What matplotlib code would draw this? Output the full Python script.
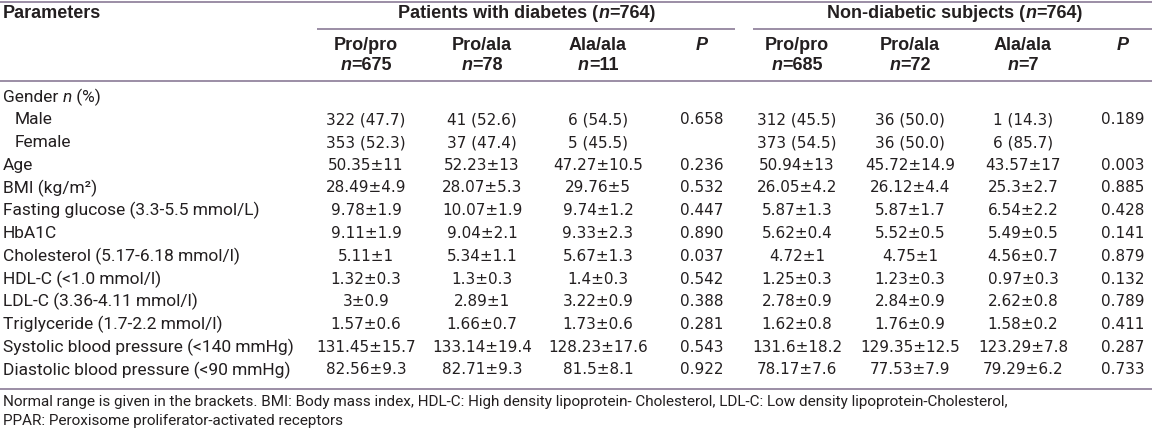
import matplotlib
matplotlib.use("Agg")
import matplotlib.pyplot as plt

# ---- table content ----
groups = ["Patients with diabetes", "Non-diabetic subjects"]
group_n = ["764", "764"]
genotypes = ["Pro/pro", "Pro/ala", "Ala/ala"]
diab_n = ["675", "78", "11"]
nondiab_n = ["685", "72", "7"]

params = ["Gender n (%)", "Male", "Female", "Age", "BMI (kg/m\u00b2)",
          "Fasting glucose (3.3-5.5 mmol/L)", "HbA1C",
          "Cholesterol (5.17-6.18 mmol/l)", "HDL-C (<1.0 mmol/l)",
          "LDL-C (3.36-4.11 mmol/l)", "Triglyceride (1.7-2.2 mmol/l)",
          "Systolic blood pressure (<140 mmHg)",
          "Diastolic blood pressure (<90 mmHg)"]
indented = ["Male", "Female"]

diab_pro_pro = ["", "322 (47.7)", "353 (52.3)", "50.35±11", "28.49±4.9", "9.78±1.9",
                "9.11±1.9", "5.11±1", "1.32±0.3", "3±0.9", "1.57±0.6",
                "131.45±15.7", "82.56±9.3"]
diab_pro_ala = ["", "41 (52.6)", "37 (47.4)", "52.23±13", "28.07±5.3", "10.07±1.9",
                "9.04±2.1", "5.34±1.1", "1.3±0.3", "2.89±1", "1.66±0.7",
                "133.14±19.4", "82.71±9.3"]
diab_ala_ala = ["", "6 (54.5)", "5 (45.5)", "47.27±10.5", "29.76±5", "9.74±1.2",
                "9.33±2.3", "5.67±1.3", "1.4±0.3", "3.22±0.9", "1.73±0.6",
                "128.23±17.6", "81.5±8.1"]
diab_p = ["", "0.658", "", "0.236", "0.532", "0.447", "0.890", "0.037",
          "0.542", "0.388", "0.281", "0.543", "0.922"]

non_pro_pro = ["", "312 (45.5)", "373 (54.5)", "50.94±13", "26.05±4.2", "5.87±1.3",
               "5.62±0.4", "4.72±1", "1.25±0.3", "2.78±0.9", "1.62±0.8",
               "131.6±18.2", "78.17±7.6"]
non_pro_ala = ["", "36 (50.0)", "36 (50.0)", "45.72±14.9", "26.12±4.4", "5.87±1.7",
               "5.52±0.5", "4.75±1", "1.23±0.3", "2.84±0.9", "1.76±0.9",
               "129.35±12.5", "77.53±7.9"]
non_ala_ala = ["", "1 (14.3)", "6 (85.7)", "43.57±17", "25.3±2.7", "6.54±2.2",
               "5.49±0.5", "4.56±0.7", "0.97±0.3", "2.62±0.8", "1.58±0.2",
               "123.29±7.8", "79.29±6.2"]
non_p = ["", "0.189", "", "0.003", "0.885", "0.428", "0.141", "0.879",
         "0.132", "0.789", "0.411", "0.287", "0.733"]

footnote = ["Normal range is given in the brackets. BMI: Body mass index, HDL-C: High density "
            "lipoprotein- Cholesterol, LDL-C: Low density lipoprotein-Cholesterol,",
            "PPAR: Peroxisome proliferator-activated receptors"]

# ---- layout ----
W, H = 1152, 430
fig = plt.figure(figsize=(W / 100, H / 100), dpi=100)
ax = fig.add_axes([0, 0, 1, 1])
ax.set_xlim(0, W)
ax.set_ylim(H, 0)
ax.axis("off")
fig.canvas.draw()
renderer = fig.canvas.get_renderer()

txt_color = "#231f20"
line_color = "#8a7a96"
body_font = "Roboto"
num_font = "DejaVu Sans"
head_font = "Liberation Sans"
body_size = 12.5
num_size = 11
head_size = 13


def rich(x, y, parts, ha="center", size=body_size, family=body_font, weight="normal"):
    # parts: list of (text, italic) ; drawn side by side
    items = []
    total = 0
    for s, it in parts:
        t = ax.text(0, y, s, fontsize=size, family=family, weight=weight,
                    style="italic" if it else "normal", color=txt_color,
                    va="center", ha="left")
        w = t.get_window_extent(renderer).width
        items.append((t, w))
        total += w
    start = x - total / 2 if ha == "center" else x
    for t, w in items:
        t.set_x(start)
        start += w


def hline(x0, x1, y, lw=1.2):
    ax.plot([x0, x1], [y, y], color=line_color, lw=lw, solid_capstyle="butt")


hline(0, W, 1.5)
hline(317, 735, 29)
hline(753, W, 29)
hline(0, W, 81)
hline(0, W, 389)

# header
ax.text(3, 14, "Parameters", fontsize=head_size, family=head_font, weight="bold",
        color=txt_color, va="center", ha="left")
group_x = [527, 955]
for gx, g, gn in zip(group_x, groups, group_n):
    rich(gx, 14, [(g + " (", False), ("n", True), ("=" + gn + ")", False)],
         size=head_size, family=head_font, weight="bold")

col_x = [[366, 482, 598, 702], [797, 910, 1023, 1123]]
for cols, ns in zip(col_x, [diab_n, nondiab_n]):
    for cx, gname, nv in zip(cols[:3], genotypes, ns):
        rich(cx, 46, [(gname, False)], size=head_size, family=head_font, weight="bold")
        rich(cx, 66, [("n", True), ("=" + nv, False)], size=head_size,
             family=head_font, weight="bold")
    rich(cols[3], 46, [("P", True)], size=head_size, family=head_font, weight="bold")

# body rows
row_y0, row_dy = 97, 22.75
series = [diab_pro_pro, diab_pro_ala, diab_ala_ala, diab_p,
          non_pro_pro, non_pro_ala, non_ala_ala, non_p]
xs = col_x[0] + col_x[1]
for i, p in enumerate(params):
    y = row_y0 + i * row_dy
    if p.startswith("Gender"):
        rich(3, y, [("Gender ", False), ("n", True), (" (%)", False)], ha="left")
    else:
        x = 15 if p in indented else 3
        ax.text(x, y, p, fontsize=body_size, family=body_font, color=txt_color,
                va="center", ha="left")
    for cx, col in zip(xs, series):
        if col[i]:
            ax.text(cx, y, col[i], fontsize=num_size, family=num_font,
                    color=txt_color, va="center", ha="center")

for j, line in enumerate(footnote):
    ax.text(3, 402 + j * 19, line, fontsize=11, family=body_font, color=txt_color,
            va="center", ha="left")

fig.savefig("out.png", dpi=100)
